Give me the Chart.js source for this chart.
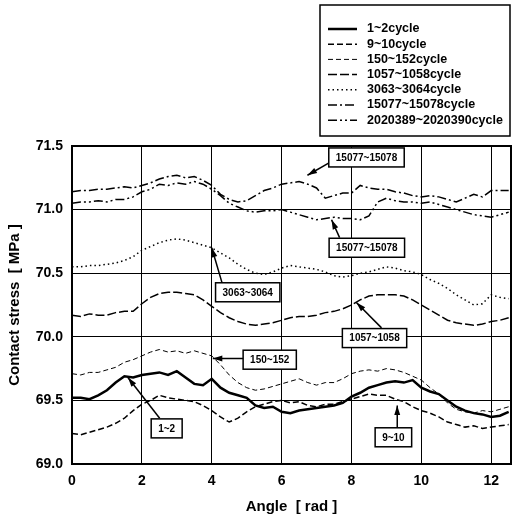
<!DOCTYPE html>
<html>
<head>
<meta charset="utf-8">
<script src="https://cdn.jsdelivr.net/npm/chart.js@4/dist/chart.umd.min.js"></script>
<style>
  html, body { margin: 0; padding: 0; background: #fff; }
  #wrap { width: 516px; height: 520px; }
</style>
</head>
<body>
<div id="wrap"><canvas id="stressChart" width="516" height="520"></canvas></div>
<script>
// angle samples [rad]
const angles = [0, 0.25, 0.5, 0.75, 1, 1.25, 1.5, 1.75, 2, 2.25, 2.5, 2.75, 3, 3.25, 3.5, 3.75, 4, 4.25, 4.5, 4.75, 5, 5.25, 5.5, 5.75, 6, 6.25, 6.5, 6.75, 7, 7.25, 7.5, 7.75, 8, 8.25, 8.5, 8.75, 9, 9.25, 9.5, 9.75, 10, 10.25, 10.5, 10.75, 11, 11.25, 11.5, 11.75, 12, 12.25, 12.5];

const cycleLabels = ["1~2cycle", "9~10cycle", "150~152cycle", "1057~1058cycle", "3063~3064cycle", "15077~15078cycle", "2020389~2020390cycle"];

const c1_2 = [69.52, 69.52, 69.51, 69.54, 69.58, 69.64, 69.69, 69.68, 69.70, 69.71, 69.72, 69.70, 69.73, 69.68, 69.63, 69.62, 69.67, 69.60, 69.56, 69.54, 69.52, 69.46, 69.44, 69.45, 69.41, 69.40, 69.42, 69.43, 69.44, 69.45, 69.46, 69.48, 69.53, 69.56, 69.60, 69.62, 69.64, 69.65, 69.64, 69.66, 69.60, 69.57, 69.55, 69.50, 69.45, 69.42, 69.40, 69.39, 69.37, 69.38, 69.41];
const c9_10 = [69.24, 69.23, 69.25, 69.27, 69.29, 69.32, 69.36, 69.42, 69.47, 69.50, 69.54, 69.52, 69.51, 69.50, 69.49, 69.46, 69.42, 69.37, 69.33, 69.36, 69.41, 69.45, 69.47, 69.49, 69.50, 69.48, 69.49, 69.46, 69.45, 69.47, 69.47, 69.49, 69.51, 69.53, 69.55, 69.54, 69.54, 69.51, 69.49, 69.45, 69.42, 69.40, 69.37, 69.33, 69.31, 69.29, 69.30, 69.28, 69.29, 69.30, 69.31];
const c150_152 = [69.71, 69.70, 69.72, 69.72, 69.74, 69.76, 69.80, 69.82, 69.85, 69.88, 69.90, 69.88, 69.89, 69.87, 69.89, 69.87, 69.85, 69.78, 69.70, 69.64, 69.60, 69.58, 69.59, 69.61, 69.63, 69.65, 69.67, 69.64, 69.62, 69.64, 69.64, 69.67, 69.71, 69.73, 69.74, 69.73, 69.75, 69.74, 69.72, 69.69, 69.66, 69.60, 69.55, 69.48, 69.43, 69.41, 69.40, 69.42, 69.41, 69.43, 69.45];
const c1057_1058 = [70.17, 70.16, 70.18, 70.17, 70.17, 70.19, 70.20, 70.20, 70.26, 70.31, 70.34, 70.35, 70.35, 70.34, 70.33, 70.29, 70.24, 70.19, 70.15, 70.12, 70.10, 70.09, 70.10, 70.11, 70.13, 70.15, 70.16, 70.16, 70.17, 70.19, 70.20, 70.22, 70.25, 70.29, 70.32, 70.33, 70.33, 70.33, 70.32, 70.29, 70.25, 70.21, 70.17, 70.13, 70.11, 70.10, 70.09, 70.10, 70.12, 70.13, 70.15];
const c3063_3064 = [70.55, 70.55, 70.56, 70.56, 70.57, 70.58, 70.60, 70.63, 70.68, 70.71, 70.74, 70.76, 70.77, 70.76, 70.74, 70.72, 70.70, 70.66, 70.62, 70.57, 70.53, 70.50, 70.49, 70.51, 70.54, 70.56, 70.55, 70.54, 70.53, 70.51, 70.48, 70.47, 70.48, 70.50, 70.51, 70.53, 70.55, 70.54, 70.52, 70.51, 70.49, 70.45, 70.42, 70.38, 70.33, 70.29, 70.25, 70.26, 70.33, 70.31, 70.30];
const c15077_15078 = [71.14, 71.15, 71.15, 71.16, 71.16, 71.17, 71.18, 71.17, 71.19, 71.21, 71.24, 71.26, 71.27, 71.25, 71.26, 71.23, 71.19, 71.12, 71.08, 71.06, 71.07, 71.11, 71.15, 71.17, 71.20, 71.21, 71.22, 71.20, 71.17, 71.09, 71.11, 71.13, 71.13, 71.19, 71.17, 71.16, 71.16, 71.14, 71.13, 71.11, 71.10, 71.11, 71.10, 71.08, 71.06, 71.09, 71.12, 71.10, 71.15, 71.15, 71.15];
const c2020389_2020390 = [71.05, 71.06, 71.06, 71.07, 71.06, 71.08, 71.08, 71.10, 71.14, 71.16, 71.20, 71.19, 71.21, 71.20, 71.22, 71.20, 71.16, 71.11, 71.05, 71.02, 70.99, 70.98, 70.99, 70.99, 71.00, 70.98, 70.96, 70.94, 70.92, 70.93, 70.94, 70.93, 70.93, 70.92, 70.95, 71.06, 71.09, 71.07, 71.06, 71.06, 71.05, 71.06, 71.04, 71.02, 71.00, 70.98, 70.96, 70.95, 70.94, 70.96, 70.98];

const xTicks = [0, 2, 4, 6, 8, 10, 12];
const yTicks = [69.0, 69.5, 70.0, 70.5, 71.0, 71.5];

const seriesList = [c1_2, c9_10, c150_152, c1057_1058, c3063_3064, c15077_15078, c2020389_2020390];
const dashes = [[], [6, 3], [5, 3], [9, 3], [1.5, 3], [9, 3, 2, 3], [9, 3, 2, 3, 2, 3]];
const widths = [2.5, 1.5, 1, 1.5, 1.5, 1.5, 1.5];

// labelled call-outs (data coordinates)
const callouts = [
  { text: "15077~15078", x: 8.43, y: 71.41, from: [7.37, 71.37], to: [6.74, 71.27] },
  { text: "15077~15078", x: 8.44, y: 70.70, from: [7.66, 70.78], to: [7.43, 70.92] },
  { text: "3063~3064", x: 5.03, y: 70.35, from: [4.31, 70.41], to: [4.0, 70.70] },
  { text: "1057~1058", x: 8.66, y: 69.99, from: [8.86, 70.07], to: [8.14, 70.27] },
  { text: "150~152", x: 5.66, y: 69.82, from: [5.03, 69.83], to: [4.03, 69.83] },
  { text: "1~2", x: 2.71, y: 69.28, from: [2.51, 69.36], to: [1.6, 69.68] },
  { text: "9~10", x: 9.2, y: 69.21, from: [9.31, 69.28], to: [9.31, 69.46] },
];

const FONT = "'Liberation Sans', Arial, sans-serif";

const datasets = seriesList.map((vals, i) => ({
  label: cycleLabels[i],
  data: angles.map((a, j) => ({ x: a, y: vals[j] })),
  borderColor: "#000",
  borderWidth: widths[i],
  borderDash: dashes[i],
  pointRadius: 0,
  fill: false,
  tension: 0,
}));

// frame, legend box and callouts
const decor = {
  id: "decor",
  afterDatasetsDraw(chart) {
    const { ctx, chartArea: a, scales } = chart;
    const sx = scales.x, sy = scales.y;
    ctx.save();
    ctx.strokeStyle = "#000";
    ctx.lineWidth = 2;
    ctx.setLineDash([]);
    ctx.strokeRect(a.left, a.top, a.right - a.left, a.bottom - a.top);

    // callouts
    ctx.font = "bold 10px " + FONT;
    ctx.textAlign = "center";
    ctx.textBaseline = "middle";
    callouts.forEach((c) => {
      const x1 = sx.getPixelForValue(c.from[0]), y1 = sy.getPixelForValue(c.from[1]);
      const x2 = sx.getPixelForValue(c.to[0]), y2 = sy.getPixelForValue(c.to[1]);
      ctx.lineWidth = 1.5;
      ctx.beginPath();
      ctx.moveTo(x1, y1);
      ctx.lineTo(x2, y2);
      ctx.stroke();
      const ang = Math.atan2(y2 - y1, x2 - x1);
      ctx.beginPath();
      ctx.moveTo(x2, y2);
      ctx.lineTo(x2 - 10 * Math.cos(ang - 0.3), y2 - 10 * Math.sin(ang - 0.3));
      ctx.lineTo(x2 - 10 * Math.cos(ang + 0.3), y2 - 10 * Math.sin(ang + 0.3));
      ctx.closePath();
      ctx.fillStyle = "#000";
      ctx.fill();

      const cx = sx.getPixelForValue(c.x), cy = sy.getPixelForValue(c.y);
      const w = ctx.measureText(c.text).width + 14, h = 19;
      ctx.fillStyle = "#fff";
      ctx.fillRect(cx - w / 2, cy - h / 2, w, h);
      ctx.strokeRect(cx - w / 2, cy - h / 2, w, h);
      ctx.fillStyle = "#000";
      ctx.fillText(c.text, cx, cy + 0.5);
    });

    // legend
    const lx = 320, ly = 5, lw = 190, lh = 131;
    ctx.lineWidth = 1.5;
    ctx.strokeRect(lx, ly, lw, lh);
    ctx.font = "bold 12.5px " + FONT;
    ctx.textAlign = "left";
    chart.data.datasets.forEach((ds, i) => {
      const y = ly + 24 + i * 15.2;
      ctx.lineWidth = ds.borderWidth;
      ctx.setLineDash(ds.borderDash);
      ctx.beginPath();
      ctx.moveTo(lx + 8, y);
      ctx.lineTo(lx + 37, y);
      ctx.stroke();
      ctx.setLineDash([]);
      ctx.fillText(ds.label, lx + 47, y);
    });
    ctx.restore();
  },
};

const ctx = document.getElementById("stressChart").getContext("2d");
const chart = new Chart(ctx, {
  type: "line",
  data: { datasets },
  options: {
    responsive: false,
    animation: false,
    layout: { padding: { top: 146, right: 5, left: 0, bottom: 0 } },
    plugins: { legend: { display: false }, tooltip: { enabled: false } },
    scales: {
      x: {
        type: "linear",
        min: 0,
        max: 4 * Math.PI,
        afterBuildTicks: (s) => { s.ticks = xTicks.map((v) => ({ value: v })); },
        afterFit: (s) => { s.height = 56; },
        grid: { color: "#000", lineWidth: 1, drawTicks: false },
        border: { color: "#000", width: 2 },
        ticks: { color: "#000", font: { family: FONT, size: 14, weight: "bold" }, padding: 9, maxRotation: 0 },
        title: { display: true, text: "Angle  [ rad ]", color: "#000", font: { family: FONT, size: 15, weight: "bold" }, padding: { top: 0 } },
      },
      y: {
        min: 69.0,
        max: 71.5,
        afterBuildTicks: (s) => { s.ticks = yTicks.map((v) => ({ value: v })); },
        afterFit: (s) => { s.width = 72; },
        grid: { color: "#000", lineWidth: 1, drawTicks: false },
        border: { color: "#000", width: 2 },
        ticks: { color: "#000", font: { family: FONT, size: 14, weight: "bold" }, padding: 9, callback: (v) => v.toFixed(1) },
        title: { display: true, text: "Contact stress  [ MPa ]", color: "#000", font: { family: FONT, size: 15, weight: "bold" }, padding: { top: 6, bottom: 4 } },
      },
    },
  },
  plugins: [decor],
});
</script>
</body>
</html>
